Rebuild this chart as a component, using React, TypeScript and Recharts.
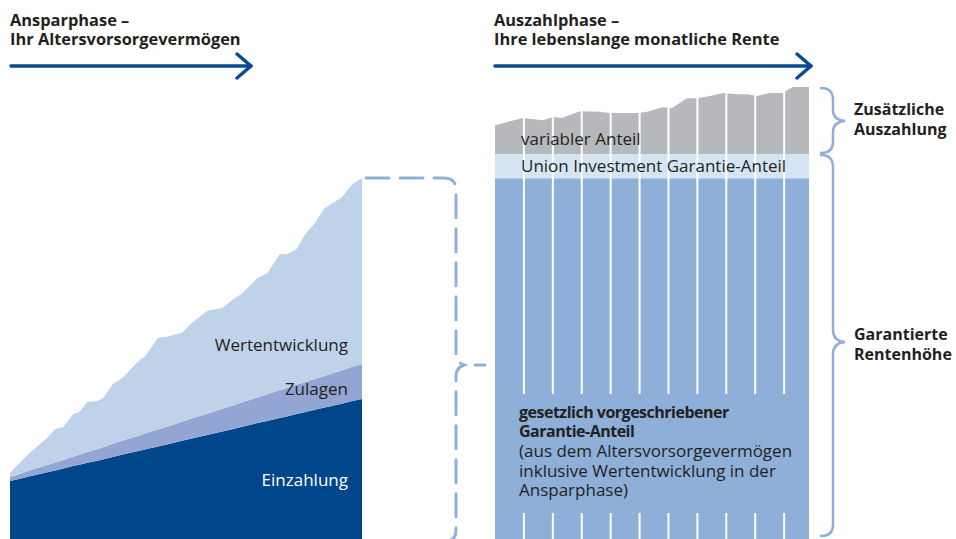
import React from "react";
import { AreaChart, Area, XAxis, YAxis, ReferenceLine } from "recharts";

// ---- Ansparphase (left) ----
const leftYears = [0, 1.0, 2.3, 3.7, 4.5, 5.3, 6.3, 6.9, 7.7, 8.7, 9.3, 10.2, 11.2, 12.2, 13.1, 13.4, 14.7, 15.6, 17.1, 18.2, 19.6, 21.1, 22.1, 23.1, 24.6, 25.6, 26.8, 27.5, 28.5, 29.3, 30.3, 31.3, 32.1, 33.0, 34.0, 35];
const einzahlung = [16.1, 16.7, 17.6, 18.5, 19.0, 19.5, 20.2, 20.6, 21.1, 21.7, 22.1, 22.7, 23.4, 24.0, 24.6, 24.8, 25.6, 26.2, 27.2, 27.9, 28.8, 29.8, 30.4, 31.1, 32.1, 32.7, 33.5, 33.9, 34.6, 35.1, 35.8, 36.4, 36.9, 37.5, 38.2, 38.8];
const zulagen = [1.1, 1.3, 1.7, 2.0, 2.2, 2.4, 2.6, 2.8, 3.0, 3.2, 3.4, 3.6, 3.9, 4.1, 4.3, 4.4, 4.7, 4.9, 5.3, 5.6, 5.9, 6.3, 6.5, 6.8, 7.1, 7.4, 7.7, 7.9, 8.1, 8.3, 8.5, 8.8, 9.0, 9.2, 9.5, 9.7];
const wertentwicklung = [1.1, 3.2, 5.4, 7.5, 9.3, 9.1, 11.8, 11.8, 13.9, 13.3, 13.6, 16.6, 17.4, 19.5, 21.2, 21.2, 25.4, 24.9, 24.6, 26.6, 28.5, 27.9, 29.3, 30.2, 33.1, 33.6, 37.7, 37.1, 37.6, 40.8, 43.2, 46.5, 47.2, 48.0, 50.5, 51.5];

// ---- Auszahlphase (right) ----
const rightX = [0, 0.97, 1.66, 2.01, 2.32, 2.94, 3.63, 3.98, 4.95, 5.26, 5.78, 6.12, 6.64, 6.99, 7.44, 7.89, 8.37, 8.75, 9.06, 9.51, 9.93, 10.31, 10.86];
const gesetzlich = [100, 100, 100, 100, 100, 100, 100, 100, 100, 100, 100, 100, 100, 100, 100, 100, 100, 100, 100, 100, 100, 100, 100];
const unionAnteil = [6.7, 6.7, 6.7, 6.7, 6.7, 6.7, 6.7, 6.7, 6.7, 6.7, 6.7, 6.7, 6.7, 6.7, 6.7, 6.7, 6.7, 6.7, 6.7, 6.7, 6.7, 6.7, 6.7];
const variabel = [8.0, 10.0, 9.4, 10.3, 10.0, 11.9, 11.7, 11.4, 11.4, 11.7, 13.0, 12.8, 15.5, 15.5, 16.1, 16.9, 16.6, 16.6, 16.1, 16.9, 16.9, 18.6, 18.6];
const columnDividers = [1, 2, 3, 4, 5, 6, 7, 8, 9, 10];
const textGapLow = 7.2;
const textGapHigh = 40.2;

const leftData = leftYears.map((x, i) => ({
  x,
  einzahlung: einzahlung[i],
  zulagen: zulagen[i],
  wertentwicklung: wertentwicklung[i],
}));
const rightData = rightX.map((x, i) => ({
  x,
  gesetzlich: gesetzlich[i],
  unionAnteil: unionAnteil[i],
  variabel: variabel[i],
}));

const FONT = "'Open Sans', 'Noto Sans', sans-serif";
const TXT = "#231f20";
const ARROW = "#0b4a93";
const BRACE = "#8fb0d9";

export default function App() {
  return (
    <div
      style={{
        position: "absolute",
        left: 0,
        top: 0,
        width: 956,
        height: 539,
        overflow: "hidden",
        background: "#ffffff",
        fontFamily: FONT,
      }}
    >
      <div style={{ position: "absolute", left: 10, top: 178 }}>
        <AreaChart width={352} height={361} data={leftData} margin={{ top: 0, right: 0, bottom: 0, left: 0 }}>
          <XAxis dataKey="x" type="number" domain={[0, 35]} hide />
          <YAxis type="number" domain={[0, 100]} hide allowDataOverflow />
          <Area type="linear" dataKey="einzahlung" stackId="a" stroke="none" fill="#00468b" fillOpacity={1} isAnimationActive={false} />
          <Area type="linear" dataKey="zulagen" stackId="a" stroke="none" fill="#93a6d3" fillOpacity={1} isAnimationActive={false} />
          <Area type="linear" dataKey="wertentwicklung" stackId="a" stroke="none" fill="#bed2e9" fillOpacity={1} isAnimationActive={false} />
        </AreaChart>
      </div>

      <div style={{ position: "absolute", left: 495, top: 70 }}>
        <AreaChart width={314} height={469} data={rightData} margin={{ top: 0, right: 0, bottom: 0, left: 0 }}>
          <XAxis dataKey="x" type="number" domain={[0, 10.86]} hide />
          <YAxis type="number" domain={[0, 130]} hide allowDataOverflow />
          <Area type="linear" dataKey="gesetzlich" stackId="r" stroke="none" fill="#8eafd7" fillOpacity={1} isAnimationActive={false} />
          <Area type="linear" dataKey="unionAnteil" stackId="r" stroke="none" fill="#d5e4f2" fillOpacity={1} isAnimationActive={false} />
          <Area type="linear" dataKey="variabel" stackId="r" stroke="none" fill="#b7b8bb" fillOpacity={1} isAnimationActive={false} />
          {columnDividers.map((c) => (
            <ReferenceLine
              key={"lo" + c}
              segment={[{ x: c, y: 0 }, { x: c, y: textGapLow }]}
              stroke="#ffffff"
              strokeWidth={2}
            />
          ))}
          {columnDividers.map((c) => (
            <ReferenceLine
              key={"hi" + c}
              segment={[{ x: c, y: textGapHigh }, { x: c, y: 130 }]}
              stroke="#ffffff"
              strokeWidth={2}
            />
          ))}
        </AreaChart>
      </div>

      <svg
        width={956}
        height={539}
        style={{ position: "absolute", left: 0, top: 0, pointerEvents: "none" }}
        fontFamily={FONT}
      >
        {/* titles */}
        <g fill={TXT} fontWeight={700} fontSize={16.4}>
          <text x={10} y={26}>Ansparphase –</text>
          <text x={10} y={45}>Ihr Altersvorsorgevermögen</text>
          <text x={494} y={26}>Auszahlphase –</text>
          <text x={494} y={45}>Ihre lebenslange monatliche Rente</text>
        </g>
        {/* arrows */}
        <g stroke={ARROW} strokeWidth={3.5} fill="none" strokeLinecap="round" strokeLinejoin="round">
          <line x1={11} y1={66} x2={251} y2={66} />
          <polyline points="237,54 251,66 237,78" />
          <line x1={495} y1={66} x2={811} y2={66} />
          <polyline points="797,54 811,66 797,78" />
        </g>

        {/* left labels */}
        <g fontSize={17} textAnchor="end">
          <text x={348} y={351} fill={TXT}>Wertentwicklung</text>
          <text x={348} y={395} fill={TXT}>Zulagen</text>
          <text x={348} y={486} fill="#ffffff">Einzahlung</text>
        </g>

        {/* right labels */}
        <g fontSize={17} fill={TXT}>
          <text x={521} y={145}>variabler Anteil</text>
          <text x={521} y={172}>Union Investment Garantie-Anteil</text>
          <text x={519} y={418} fontWeight={700} fontSize={16} letterSpacing={-0.5}>gesetzlich vorgeschriebener</text>
          <text x={519} y={437} fontWeight={700} fontSize={16} letterSpacing={-0.5}>Garantie-Anteil</text>
          <text x={519} y={457}>(aus dem Altersvorsorgevermögen</text>
          <text x={519} y={477}>inklusive Wertentwicklung in der</text>
          <text x={519} y={496}>Ansparphase)</text>
        </g>

        {/* dashed bracket */}
        <g stroke={BRACE} strokeWidth={3} fill="none" strokeLinecap="round">
          <path
            d="M 366 178 L 444 178 Q 456 178 456 190 L 456 354 Q 456 362 464 365 Q 456 368 456 376 L 456 530 Q 456 541 446 541"
            strokeDasharray="23 11"
          />
          <line x1={475} y1={365} x2={485} y2={365} />
        </g>

        {/* braces */}
        <g stroke={BRACE} strokeWidth={2.5} fill="none" strokeLinecap="round">
          <path d="M 821 88 Q 833 88 833 100 L 833 110 Q 833 120 845 121 Q 833 122 833 132 L 833 142 Q 833 153 821 153" />
          <path d="M 821 155 Q 833 155 833 167 L 833 330 Q 833 341 845 342 Q 833 343 833 354 L 833 525 Q 833 536 821 536" />
        </g>
        <g fontSize={16} fontWeight={700} fill={TXT}>
          <text x={854} y={115}>Zusätzliche</text>
          <text x={854} y={135}>Auszahlung</text>
          <text x={854} y={340}>Garantierte</text>
          <text x={854} y={360}>Rentenhöhe</text>
        </g>
      </svg>
    </div>
  );
}
